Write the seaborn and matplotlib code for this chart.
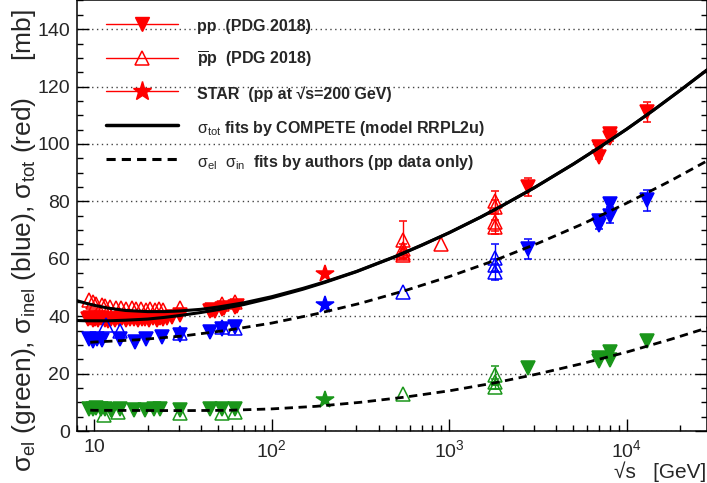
import numpy as np
import seaborn as sns
import matplotlib.pyplot as plt
from matplotlib.lines import Line2D
from matplotlib.ticker import FixedLocator, LogLocator, MultipleLocator, NullFormatter

sns.set_style("ticks")
plt.rcParams['font.family'] = ['Liberation Sans', 'DejaVu Sans']
plt.rcParams['mathtext.fontset'] = 'custom'
plt.rcParams['mathtext.rm'] = 'Liberation Sans'
plt.rcParams['mathtext.it'] = 'Liberation Sans:italic'
plt.rcParams['mathtext.bf'] = 'Liberation Sans:bold'

RED, BLUE, GREEN = '#ff0000', '#0000ff', '#1a961a'

# ---- curves ----
fit_x = [8, 9, 10, 12, 15, 20, 25, 30, 40, 50, 70, 100, 150, 200, 300, 500, 700,
         1000, 1500, 2000, 3000, 5000, 7000, 10000, 14000, 20000, 28300]
tot_fit_pp = [38.5, 38.4, 38.4, 38.4, 38.6, 39.0, 39.6, 40.2, 41.3, 42.3, 44.1, 46.4, 49.4,
              51.8, 55.5, 60.8, 64.7, 69.1, 74.5, 78.6, 84.7, 93.0, 98.8, 105.2, 111.6, 118.7, 125.8]
tot_fit_pbp = [45.4, 44.5, 43.8, 42.8, 42.0, 41.6, 41.6, 41.8, 42.4, 43.2, 44.7, 46.8, 49.7,
               52.0, 55.6, 60.9, 64.8, 69.1, 74.5, 78.6, 84.7, 93.0, 98.8, 105.2, 111.6, 118.7, 125.8]

dash_x = [9.5, 10, 17.8, 31.6, 56.2, 100, 178, 316, 562, 1000, 1780, 3160, 5620, 10000, 17800, 28300]
inel_fit = [30.9, 31.0, 31.8, 33.1, 35.1, 37.6, 40.8, 44.5, 48.9, 53.8, 59.3, 65.4, 72.1, 79.4, 87.3, 94.1]
el_fit = [7.25, 7.2, 7.15, 7.1, 7.2, 7.7, 8.6, 10.0, 11.8, 14.0, 16.7, 19.9, 23.5, 27.5, 32.0, 35.9]

# ---- sigma_tot (red) ----
tot_pp_x = [9.2, 9.5, 9.8, 10.1, 10.5, 10.9, 11.5, 12.0, 12.5, 13.1, 13.8, 14.4, 15.1, 15.9,
            16.8, 17.7, 18.6, 19.4, 20.4, 21.5, 22.6, 23.5, 24.5, 25.6, 27.4, 30.6, 44.7, 46.0,
            48.0, 52.8, 54.0, 62.3, 63.5]
tot_pp_y = [38.9, 39.4, 38.6, 39.1, 38.7, 39.3, 38.8, 38.5, 39.1, 38.7, 38.9, 39.2, 38.6, 38.9,
            39.1, 38.7, 38.9, 39.1, 38.8, 39.2, 38.8, 39.4, 39.0, 39.5, 39.8, 40.5, 41.8, 42.1,
            41.9, 42.4, 42.9, 43.3, 43.7]
tot_pp_hi_x = [2760, 7000, 7000, 8000, 8000, 13000]
tot_pp_hi_y = [85.0, 99.0, 95.6, 103.5, 102.2, 111.2]
tot_pp_hi_err = [3.2, 1.0, 1.0, 1.0, 1.0, 3.4]

tot_pbp_x = [9.4, 9.8, 10.3, 11.0, 11.5, 12.3, 13.3, 14.2, 15.2, 16.3, 17.3, 18.4, 19.5, 20.7,
             22.0, 23.2, 24.5, 30.4, 52.6, 62.3]
tot_pbp_y = [45.5, 45.0, 44.4, 43.8, 43.6, 43.3, 43.0, 42.9, 42.6, 42.8, 42.4, 42.6, 42.3, 42.5,
             42.2, 42.4, 42.1, 42.8, 44.2, 44.8]
tot_pbp_hi_x = [546, 546, 546, 546, 900, 1800, 1800, 1800, 1800]
tot_pbp_hi_y = [61.3, 61.9, 63.3, 66.5, 65.3, 80.0, 78.0, 72.8, 71.0]
tot_pbp_hi_err = [0.9, 1.5, 2.0, 6.5, None, 3.5, 2.5, 3.1, 2.4]

# ---- sigma_inel (blue) ----
inel_pp_x = [9.3, 9.8, 10.4, 11.1, 14.0, 17.0, 19.6, 24.2, 30.6, 44.7, 52.8, 62.3]
inel_pp_y = [32.2, 31.5, 32.0, 31.6, 32.0, 31.0, 32.0, 32.6, 33.6, 34.6, 35.4, 36.2]
inel_pp_hi_x = [2760, 7000, 7000, 8000, 8000, 13000]
inel_pp_hi_y = [63.4, 73.2, 71.6, 79.0, 75.0, 80.4]
inel_pp_hi_err = [3.4, 1.5, 1.3, 1.0, 2.6, 3.7]

inel_pbp_x = [11.7, 13.9, 30.4, 52.6, 62.3]
inel_pbp_y = [36.8, 34.8, 34.3, 36.2, 35.8]
inel_pbp_hi_x = [546, 1800, 1800, 1800]
inel_pbp_hi_y = [48.4, 60.3, 57.8, 55.5]
inel_pbp_hi_err = [None, 5.0, 2.0, 2.8]

# ---- sigma_el (green) ----
el_pp_x = [9.3, 9.8, 10.3, 10.9, 11.5, 12.4, 14.0, 16.8, 19.4, 21.7, 23.5, 30.6, 44.7, 52.8, 62.3]
el_pp_y = [7.8, 7.6, 7.9, 7.5, 7.7, 7.4, 7.6, 7.3, 7.4, 7.5, 7.7, 7.4, 7.6, 7.8, 7.7]
el_pp_hi_x = [2760, 7000, 7000, 8000, 8000, 13000]
el_pp_hi_y = [22.0, 25.6, 24.3, 27.5, 24.6, 31.2]

el_pbp_x = [11.3, 13.7, 30.4, 52.6, 62.3]
el_pbp_y = [5.6, 6.6, 6.4, 6.4, 6.6]
el_pbp_hi_x = [546, 1800, 1800, 1800]
el_pbp_hi_y = [12.9, 19.5, 17.1, 15.3]
el_pbp_hi_err = [None, 3.0, 1.0, 0.8]

# ---- STAR at 200 GeV ----
star_x = [200]
star_tot, star_inel, star_el = [54.7], [43.8], [10.9]


fig = plt.figure(figsize=(7.07, 4.83), dpi=100)
ax = fig.add_axes([77 / 707, 1 - 431 / 483, (707 - 77) / 707, 431 / 483 - 0.001])


def points(x, y, color, marker, open_=False, err=None, ms=9.5):
    if err is not None:
        err = np.array([np.nan if e is None else e for e in err], dtype=float)
    ax.errorbar(x, y, yerr=err, fmt=marker, ms=ms, color=color,
                mfc='none' if open_ else color, mec=color, mew=1.1,
                elinewidth=1.0, capsize=3, capthick=1.0, zorder=3)


for c, lo_x, lo_y in [(RED, tot_pp_x, tot_pp_y), (BLUE, inel_pp_x, inel_pp_y),
                      (GREEN, el_pp_x, el_pp_y)]:
    points(lo_x, lo_y, c, 'v')
for c, lo_x, lo_y in [(RED, tot_pbp_x, tot_pbp_y), (BLUE, inel_pbp_x, inel_pbp_y),
                      (GREEN, el_pbp_x, el_pbp_y)]:
    points(lo_x, lo_y, c, '^', open_=True)

points(tot_pp_hi_x, tot_pp_hi_y, RED, 'v', err=tot_pp_hi_err)
points(inel_pp_hi_x, inel_pp_hi_y, BLUE, 'v', err=inel_pp_hi_err)
points(el_pp_hi_x, el_pp_hi_y, GREEN, 'v')
points(tot_pbp_hi_x, tot_pbp_hi_y, RED, '^', open_=True, err=tot_pbp_hi_err)
points(inel_pbp_hi_x, inel_pbp_hi_y, BLUE, '^', open_=True, err=inel_pbp_hi_err)
points(el_pbp_hi_x, el_pbp_hi_y, GREEN, '^', open_=True, err=el_pbp_hi_err)
points(star_x, star_tot, RED, '*', ms=13)
points(star_x, star_inel, BLUE, '*', ms=13)
points(star_x, star_el, GREEN, '*', ms=13)

# fits
sns.lineplot(x=fit_x, y=tot_fit_pp, color='black', lw=2.2, ax=ax, estimator=None, sort=False, zorder=5)
sns.lineplot(x=fit_x, y=tot_fit_pbp, color='black', lw=2.2, ax=ax, estimator=None, sort=False, zorder=5)
sns.lineplot(x=dash_x, y=inel_fit, color='black', lw=2.0, ls=(0, (3, 2)), ax=ax,
             estimator=None, sort=False, zorder=5)
sns.lineplot(x=dash_x, y=el_fit, color='black', lw=2.0, ls=(0, (3, 2)), ax=ax,
             estimator=None, sort=False, zorder=5)

ax.set_xscale('log')
ax.set_xlim(8, 28300)
ax.set_ylim(0, 150)
ax.xaxis.set_major_locator(FixedLocator([10, 100, 1000, 10000]))
ax.set_xticklabels(['10', r'$10^{2}$', r'$10^{3}$', r'$10^{4}$'])
ax.xaxis.set_minor_locator(LogLocator(base=10, subs=range(2, 10)))
ax.xaxis.set_minor_formatter(NullFormatter())
ax.yaxis.set_major_locator(MultipleLocator(20))
ax.yaxis.set_minor_locator(MultipleLocator(5))
ax.tick_params(which='both', direction='in', right=True, top=False, width=1.0, color='black')
ax.tick_params(which='major', length=8.5, labelsize=14, pad=5)
ax.tick_params(axis='x', which='major', pad=6)
ax.tick_params(which='minor', length=4.5)
for sp in ax.spines.values():
    sp.set_linewidth(1.1)
    sp.set_color('black')

ax.set_axisbelow(True)
ax.grid(axis='y', which='major', linestyle=(0, (1, 2.5)), color='#444444', lw=1.0)
ax.set_xlabel('')

ax.set_ylabel(r'$\mathrm{\sigma_{el}}$ (green), $\mathrm{\sigma_{inel}}$ (blue), '
              r'$\mathrm{\sigma_{tot}}$ (red)     [mb]', fontsize=19)
ax.yaxis.set_label_coords(-0.062, 0.443)

fig.text(706 / 707, 1 - 472 / 483, '√s   [GeV]', ha='right', va='center', fontsize=15)

handles = [
    Line2D([], [], color=RED, lw=1, marker='v', ms=10, mfc=RED, mec=RED),
    Line2D([], [], color=RED, lw=1, marker='^', ms=10, mfc='none', mec=RED, mew=1.1),
    Line2D([], [], color=RED, lw=1, marker='*', ms=14, mfc=RED, mec=RED),
    Line2D([], [], color='black', lw=2.5),
    Line2D([], [], color='black', lw=2.2, ls=(0, (3, 2))),
]
labels = [
    'pp  (PDG 2018)',
    r'$\overline{\mathbf{p}}$p  (PDG 2018)',
    'STAR  (pp at √s=200 GeV)',
    r'$\mathrm{\sigma_{tot}}$ fits by COMPETE (model RRPL2u)',
    r'$\mathrm{\sigma_{el}\ \ \sigma_{in}}$  fits by authors (pp data only)',
]
ax.legend(handles, labels, loc='upper left', bbox_to_anchor=(106 / 707, 1 - 16 / 483),
          bbox_transform=fig.transFigure, frameon=False, borderpad=0, borderaxespad=0,
          handlelength=4.5, handleheight=1.6, handletextpad=1.2, labelspacing=0.83,
          prop={'weight': 'bold', 'size': 11.5})

fig.savefig('out.png', dpi=100)
